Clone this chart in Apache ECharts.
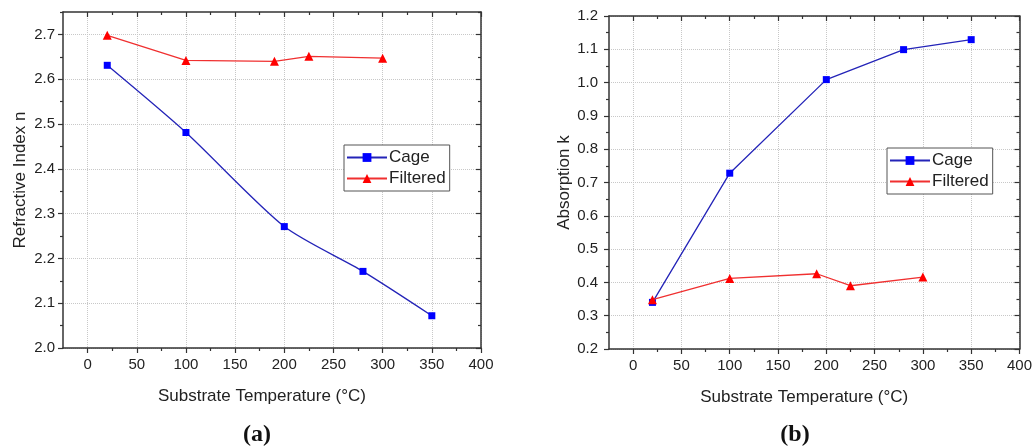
<!DOCTYPE html>
<html>
<head>
<meta charset="utf-8">
<script src="https://cdn.jsdelivr.net/npm/echarts@6/dist/echarts.min.js"></script>
<style>html,body{margin:0;padding:0;background:#fff;}#c{width:1035px;height:448px;}</style>
</head>
<body>
<div id="c"></div>
<script>
// ---- data ----
var tempCageA = [20, 100, 200, 280, 350];
var nCage = [2.631, 2.481, 2.271, 2.171, 2.072];
var tempFilt = [20, 100, 190, 225, 300];
var nFilt = [2.698, 2.642, 2.640, 2.651, 2.647];
var tempCageB = [20, 100, 200, 280, 350];
var kCage = [0.34, 0.728, 1.009, 1.099, 1.129];
var kFilt = [0.348, 0.412, 0.426, 0.39, 0.416];

var xMajor = [0, 50, 100, 150, 200, 250, 300, 350, 400];
var xMinor = [25, 75, 125, 175, 225, 275, 325, 375];
var yMajorA = [2.0, 2.1, 2.2, 2.3, 2.4, 2.5, 2.6, 2.7];
var yMinorA = [2.05, 2.15, 2.25, 2.35, 2.45, 2.55, 2.65, 2.75];
var yMajorB = [0.2, 0.3, 0.4, 0.5, 0.6, 0.7, 0.8, 0.9, 1.0, 1.1, 1.2];
var yMinorB = [0.25, 0.35, 0.45, 0.55, 0.65, 0.75, 0.85, 0.95, 1.05, 1.15];

function pairs(xs, ys) { return xs.map(function (x, i) { return [x, ys[i]]; }); }

var FONT = 'Liberation Sans';
var AX = '#333';
var grid = [
  { left: 63, top: 12, width: 418, height: 336 },
  { left: 609, top: 16, width: 413, height: 333 }
];

var xAxis = [], yAxis = [];
function addAxes(g, xr, yr, yMaj, yMin, yDec, yName, yNameGap, yLabMargin) {
  var base = { gridIndex: g, type: 'value', min: xr[0], max: xr[1], interval: 25, splitLine: { show: false }, axisLabel: { show: false }, axisLine: { show: false, onZero: false }, axisTick: { show: false } };
  xAxis.push(Object.assign({}, base, {
    position: 'bottom',
    axisLine: { show: true, onZero: false, lineStyle: { color: AX, width: 1.5 } },
    axisTick: { show: true, customValues: xMajor, length: 5, lineStyle: { color: AX, width: 1.2 } },
    axisLabel: { show: true, customValues: xMajor, margin: 9, fontFamily: FONT, fontSize: 15, color: '#222' },
    splitLine: { show: true, lineStyle: { color: '#c8c8c8', type: 'dotted', width: 1 } },
    name: 'Substrate Temperature (°C)', nameLocation: 'middle', nameGap: 40,
    nameTextStyle: { fontFamily: FONT, fontSize: 17, color: '#222', padding: [0, 20, 0, 0] }
  }));
  xAxis.push(Object.assign({}, base, { position: 'bottom',
    axisTick: { show: true, customValues: xMinor, length: 3, lineStyle: { color: AX, width: 1.2 } } }));
  xAxis.push(Object.assign({}, base, { position: 'top',
    axisLine: { show: true, onZero: false, lineStyle: { color: AX, width: 1.5 } },
    axisTick: { show: true, inside: true, customValues: xMajor, length: 5, lineStyle: { color: AX, width: 1.2 } } }));
  xAxis.push(Object.assign({}, base, { position: 'top',
    axisTick: { show: true, inside: true, customValues: xMinor, length: 3, lineStyle: { color: AX, width: 1.2 } } }));

  var ybase = { gridIndex: g, type: 'value', min: yr[0], max: yr[1], interval: 0.05, splitLine: { show: false }, axisLabel: { show: false }, axisLine: { show: false, onZero: false }, axisTick: { show: false } };
  yAxis.push(Object.assign({}, ybase, {
    position: 'left',
    axisLine: { show: true, onZero: false, lineStyle: { color: AX, width: 1.5 } },
    axisTick: { show: true, customValues: yMaj, length: 5, lineStyle: { color: AX, width: 1.2 } },
    axisLabel: { show: true, customValues: yMaj, margin: yLabMargin, fontFamily: FONT, fontSize: 15, color: '#222',
      formatter: function (v) { return v.toFixed(yDec); } },
    splitLine: { show: true, lineStyle: { color: '#c8c8c8', type: 'dotted', width: 1 } },
    name: yName, nameLocation: 'middle', nameGap: yNameGap,
    nameTextStyle: { fontFamily: FONT, fontSize: 17, color: '#222' }
  }));
  yAxis.push(Object.assign({}, ybase, { position: 'left',
    axisTick: { show: true, customValues: yMin, length: 3, lineStyle: { color: AX, width: 1.2 } } }));
  yAxis.push(Object.assign({}, ybase, { position: 'right',
    axisLine: { show: true, onZero: false, lineStyle: { color: AX, width: 1.5 } },
    axisTick: { show: true, inside: true, customValues: yMaj, length: 5, lineStyle: { color: AX, width: 1.2 } } }));
  yAxis.push(Object.assign({}, ybase, { position: 'right',
    axisTick: { show: true, inside: true, customValues: yMin, length: 3, lineStyle: { color: AX, width: 1.2 } } }));
}
addAxes(0, [-25, 400], [2.0, 2.75], yMajorA, yMinorA, 1, 'Refractive Index n', 34, 8);
addAxes(1, [-25, 400], [0.2, 1.2], yMajorB, yMinorB, 1, 'Absorption k', 34, 11);

var BLUE_L = '#2424b8', BLUE_M = '#0000ff', RED_L = '#f03030', RED_M = '#ff0000';
function cage(name, data, xi, smooth) {
  return { name: name, type: 'line', xAxisIndex: xi, yAxisIndex: xi, data: data, smooth: smooth,
    symbol: 'rect', symbolSize: 7, lineStyle: { color: BLUE_L, width: 1.3 }, itemStyle: { color: BLUE_M }, z: 3 };
}
function filt(name, data, xi) {
  return { name: name, type: 'line', xAxisIndex: xi, yAxisIndex: xi, data: data,
    symbol: 'triangle', symbolSize: 9, lineStyle: { color: RED_L, width: 1.3 }, itemStyle: { color: RED_M }, z: 4 };
}

var legendBase = { orient: 'vertical', itemWidth: 40, itemHeight: 11, itemGap: 4, padding: [4, 4, 4, 2],
  borderColor: '#555', borderWidth: 1, backgroundColor: '#fff',
  textStyle: { fontFamily: FONT, fontSize: 17, color: '#222', padding: [0, 0, 0, -3] }, data: ['Cage', 'Filtered'] };

var option = {
  animation: false,
  backgroundColor: '#fff',
  grid: grid,
  xAxis: xAxis,
  yAxis: yAxis,
  legend: [
    Object.assign({}, legendBase, { left: 344, top: 145 }),
    Object.assign({}, legendBase, { left: 887, top: 148 })
  ],
  title: [
    { text: '{p|(}{b|a}{p|)}', left: 252, top: 418, textAlign: 'center',
      textStyle: { rich: { p: { fontFamily: 'Liberation Serif', fontSize: 24, color: '#111' }, b: { fontFamily: 'Liberation Serif', fontSize: 24, fontWeight: 'bold', color: '#111' } } } },
    { text: '{p|(}{b|b}{p|)}', left: 790, top: 418, textAlign: 'center',
      textStyle: { rich: { p: { fontFamily: 'Liberation Serif', fontSize: 24, color: '#111' }, b: { fontFamily: 'Liberation Serif', fontSize: 24, fontWeight: 'bold', color: '#111' } } } }
  ],
  series: [
    cage('Cage', pairs(tempCageA, nCage), 0, 0.25),
    filt('Filtered', pairs(tempFilt, nFilt), 0),
    cage('Cage', pairs(tempCageB, kCage), 4, false),
    filt('Filtered', pairs(tempFilt, kFilt), 4)
  ]
};
var chart = echarts.init(document.getElementById('c'));
chart.setOption(option);
</script>
</body>
</html>
